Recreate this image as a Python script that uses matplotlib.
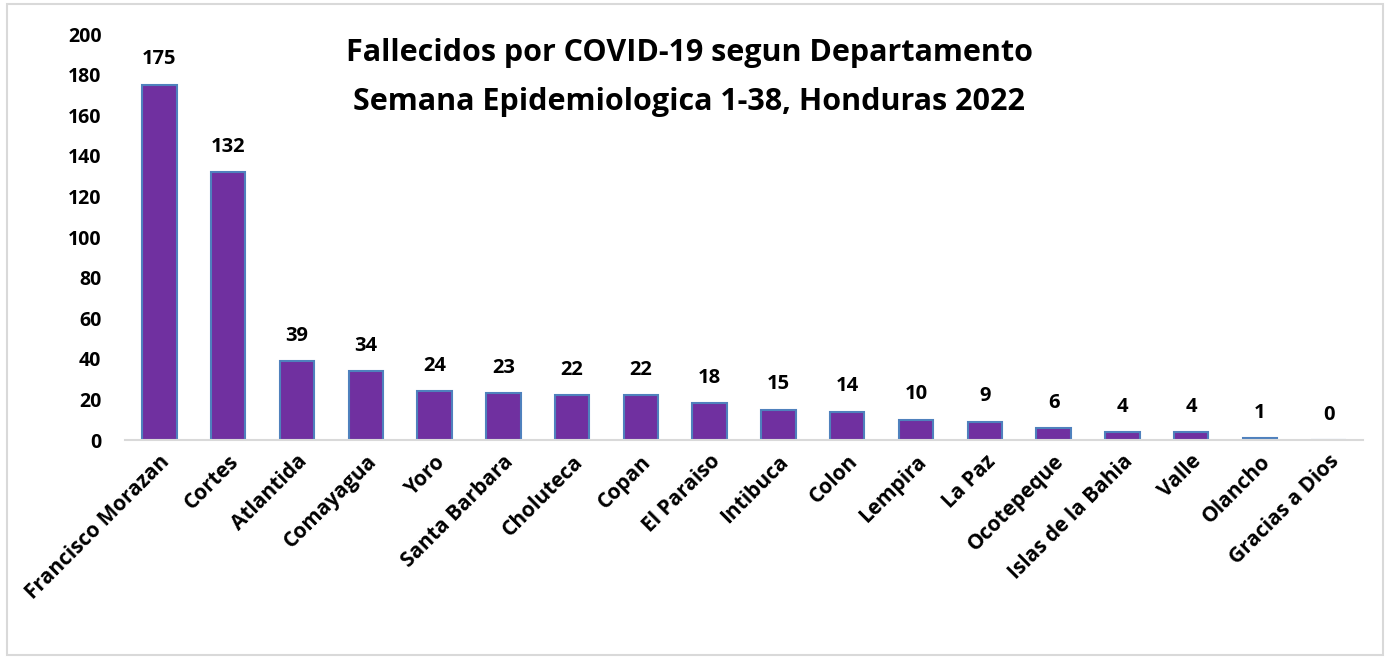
import matplotlib.pyplot as plt
import matplotlib.patches as patches

plt.rcParams['font.family'] = ['Open Sans', 'DejaVu Sans']
plt.rcParams['font.weight'] = 'bold'

# datos
departamentos = ['Francisco Morazan', 'Cortes', 'Atlantida', 'Comayagua', 'Yoro',
                 'Santa Barbara', 'Choluteca', 'Copan', 'El Paraiso', 'Intibuca',
                 'Colon', 'Lempira', 'La Paz', 'Ocotepeque', 'Islas de la Bahia',
                 'Valle', 'Olancho', 'Gracias a Dios']
fallecidos = [175, 132, 39, 34, 24, 23, 22, 22, 18, 15, 14, 10, 9, 6, 4, 4, 1, 0]
yticks = list(range(0, 201, 20))

fig = plt.figure(figsize=(13.9, 6.58), dpi=100)
ax = fig.add_axes([0.09, 0.3313, 0.8906, 0.617])

x = list(range(len(departamentos)))
ax.bar(x, fallecidos, width=0.5, color='#7030A0', edgecolor='#4F81BD', linewidth=1.5, zorder=2)

for i, v in enumerate(fallecidos):
    ax.annotate(str(v), (i, v), xytext=(0, 11), textcoords='offset points',
                ha='center', va='bottom', fontsize=14.5, fontweight='bold')

ax.set_xlim(-0.5, len(departamentos) - 0.5)
ax.set_ylim(0, 200)
ax.set_yticks(yticks)
ax.set_xticks(x)
ax.set_xticklabels(departamentos, rotation=45, ha='right', rotation_mode='anchor')
ax.tick_params(axis='both', length=0)
ax.tick_params(axis='x', labelsize=15, pad=8)
ax.tick_params(axis='y', labelsize=14, pad=17)

for s in ['top', 'right', 'left']:
    ax.spines[s].set_visible(False)
ax.spines['bottom'].set_color('#D9D9D9')
ax.spines['bottom'].set_linewidth(1.5)

fig.text(0.496, 0.882, 'Fallecidos por COVID-19 segun Departamento\nSemana Epidemiologica 1-38, Honduras 2022',
         ha='center', va='center', fontsize=22, fontweight='bold', linespacing=1.85)

# borde
fig.patches.append(patches.Rectangle((0.005, 0.004), 0.99, 0.99, transform=fig.transFigure,
                                     fill=False, edgecolor='#D9D9D9', linewidth=1.5))

plt.savefig('out.png', dpi=100)
